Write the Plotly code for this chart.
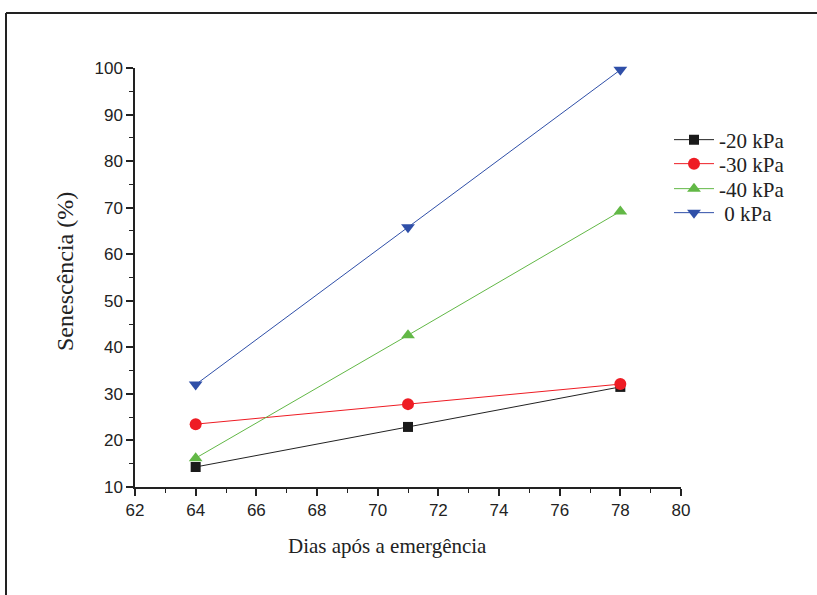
import plotly.graph_objects as go

days = [64, 71, 78]
s_m20 = [14.3, 22.9, 31.5]
s_m30 = [23.5, 27.8, 32.1]
s_m40 = [16.2, 42.6, 69.2]
s_0 = [32.0, 65.8, 99.6]

series = [
    ("-20 kPa", s_m20, "#1a1a1a", "#222222", "square", 10),
    ("-30 kPa", s_m30, "#ee1c24", "#ee1c24", "circle", 12),
    ("-40 kPa", s_m40, "#62b846", "#62b846", "triangle-up", 12),
    (" 0 kPa", s_0, "#2f4fa8", "#2f4fa8", "triangle-down", 12),
]
legend_centers = [140, 164, 189, 213]

W, H = 817, 595
L, R, T, B = 135, 136, 68, 108
pw, ph = W - L - R, H - T - B

def px2x(p):
    return (p - L) / pw

def py2y(p):
    return 1 - (p - T) / ph

serif = "Liberation Serif"
fig = go.Figure()
legend_layout = {}
for i, (name, ys, mc, lc, sym, sz) in enumerate(series):
    lname = "legend" if i == 0 else f"legend{i + 1}"
    fig.add_trace(go.Scatter(
        x=days, y=ys, name=name, mode="lines+markers",
        line=dict(color=lc, width=1),
        marker=dict(symbol=sym, size=sz, color=mc),
        cliponaxis=False, legend=lname,
    ))
    legend_layout[lname] = dict(
        x=px2x(669), y=py2y(legend_centers[i]), xanchor="left", yanchor="middle",
        font=dict(family=serif, size=21, color="#222222"),
        bgcolor="rgba(0,0,0,0)", itemwidth=40,
    )

frame_col = "#222222"
fig.add_shape(type="line", xref="paper", yref="paper",
              x0=px2x(6), x1=px2x(6), y0=py2y(13), y1=py2y(600),
              line=dict(color=frame_col, width=2))
fig.add_shape(type="line", xref="paper", yref="paper",
              x0=px2x(6), x1=px2x(820), y0=py2y(13), y1=py2y(13),
              line=dict(color=frame_col, width=2))

tickfont = dict(family="Liberation Sans", size=17, color="#222222")

fig.update_xaxes(
    range=[62, 80], dtick=2, tick0=62,
    showline=True, linecolor="#222222", linewidth=1.5,
    ticks="outside", ticklen=7, tickwidth=1.5, tickcolor="#222222",
    minor=dict(ticks="outside", dtick=1, ticklen=4, tickwidth=1, tickcolor="#222222"),
    showgrid=False, zeroline=False, tickfont=tickfont,
)
fig.update_yaxes(
    range=[10, 100], dtick=10, tick0=10,
    showline=True, linecolor="#222222", linewidth=1.5,
    ticks="outside", ticklen=7, tickwidth=1.5, tickcolor="#222222",
    minor=dict(ticks="outside", dtick=5, ticklen=4, tickwidth=1, tickcolor="#222222"),
    showgrid=False, zeroline=False, tickfont=tickfont,
)

fig.add_annotation(text="Dias após a emergência", xref="paper", yref="paper",
                   x=px2x(387), y=py2y(546), showarrow=False,
                   xanchor="center", yanchor="middle",
                   font=dict(family=serif, size=21, color="#222222"))
fig.add_annotation(text="Senescência (%)", xref="paper", yref="paper",
                   x=px2x(65), y=py2y(272), showarrow=False, textangle=-90,
                   xanchor="center", yanchor="middle",
                   font=dict(family=serif, size=24, color="#222222"))

fig.update_layout(
    width=W, height=H,
    margin=dict(l=L, r=R, t=T, b=B),
    paper_bgcolor="white", plot_bgcolor="white",
    showlegend=True,
    **legend_layout,
)

fig.write_html("out.html")
